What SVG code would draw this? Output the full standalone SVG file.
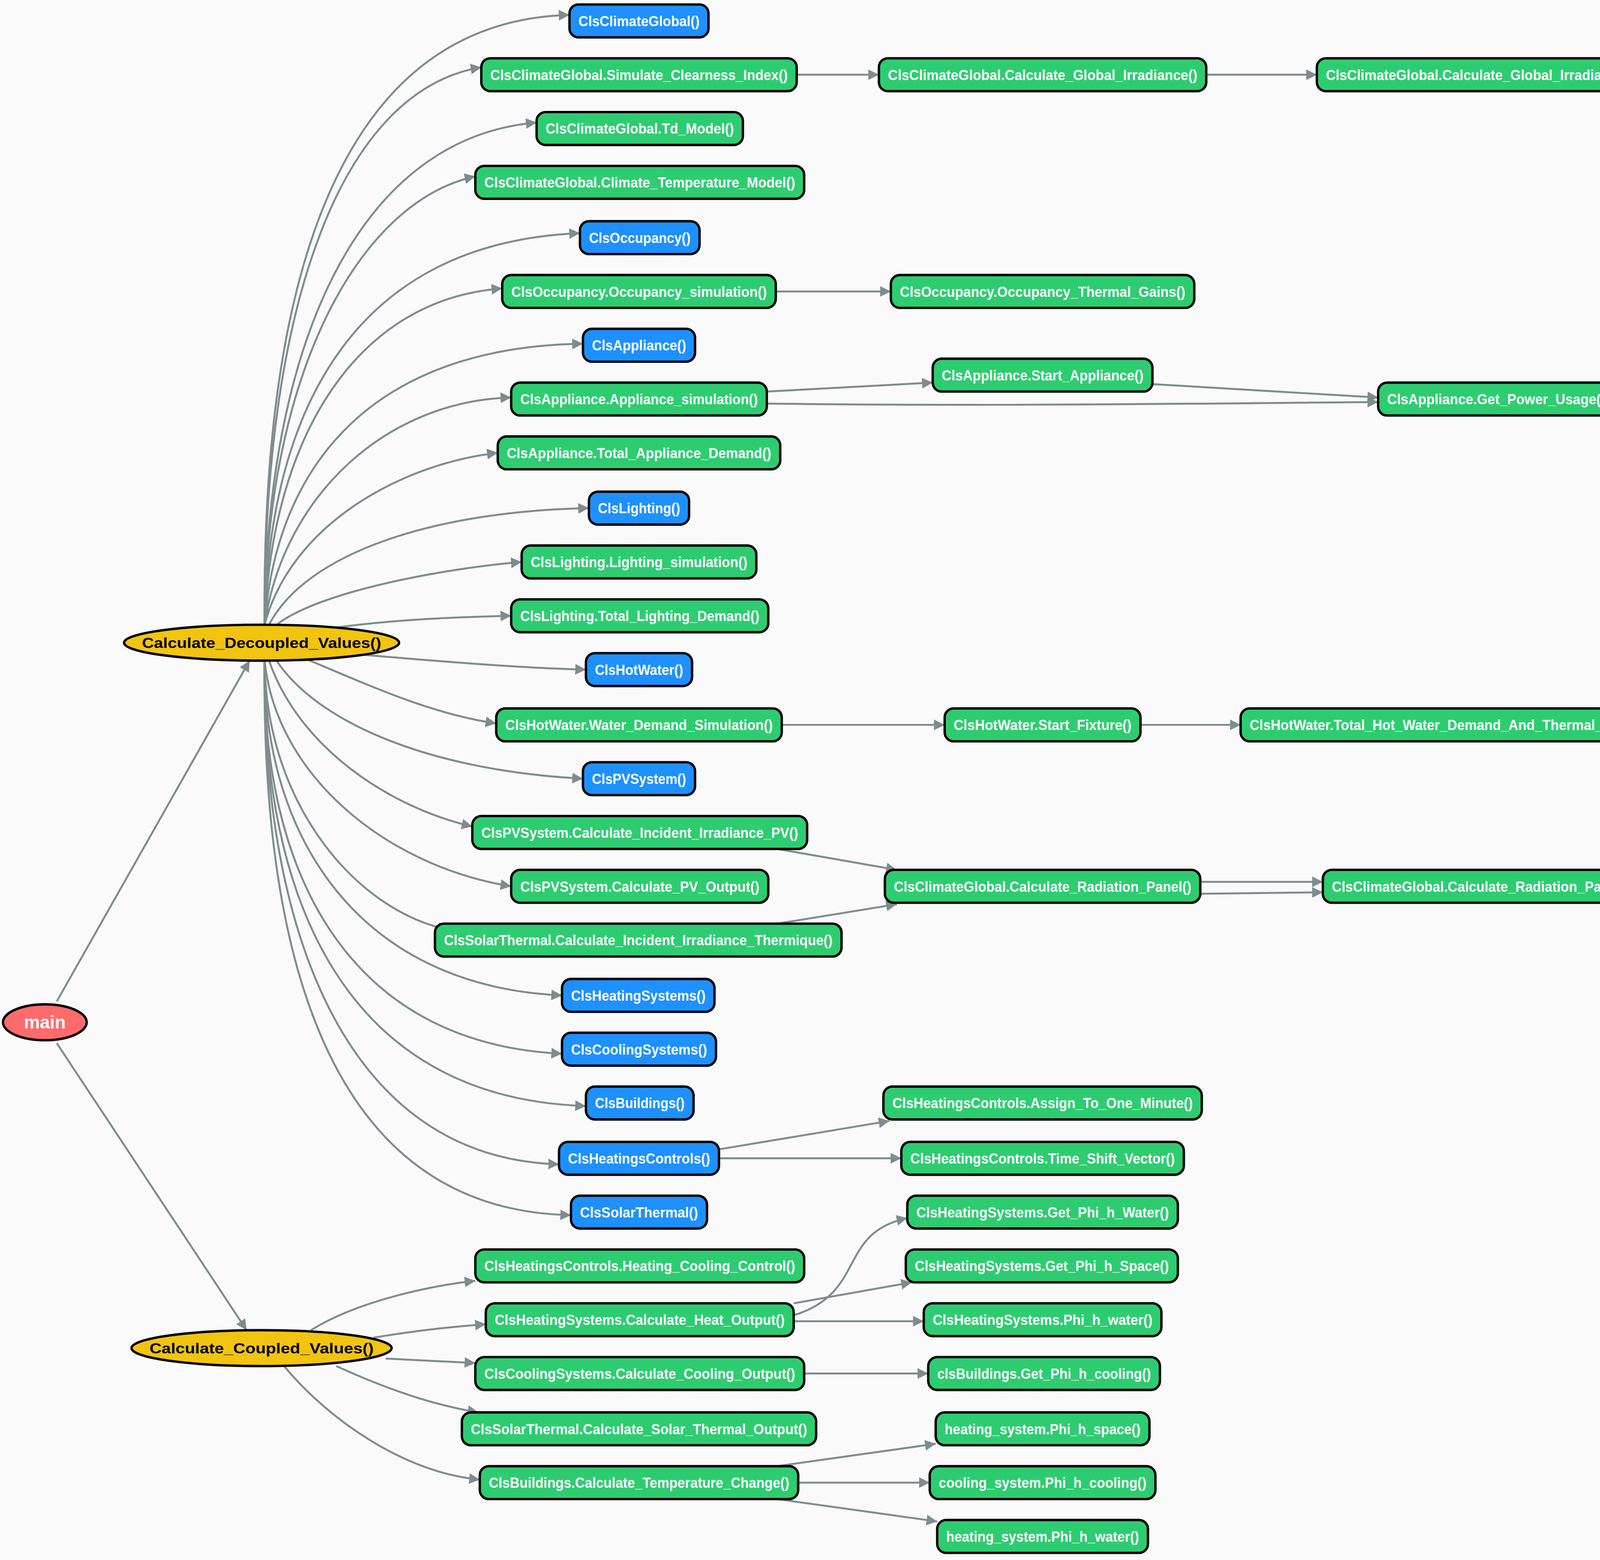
<svg xmlns="http://www.w3.org/2000/svg" width="6000" height="3994" viewBox="0 0 6000 3994">
<style>
.n rect{stroke:#000;stroke-width:1.6}
.g rect{fill:#2ecc71}
.b rect{fill:#1e90ff}
.n text{font-family:"Liberation Sans",Arial,sans-serif;font-weight:bold;font-size:9.5px;fill:#fff;text-anchor:middle}
.e ellipse{stroke:#000;stroke-width:1.6}
.e text{font-family:"Liberation Sans",Arial,sans-serif;font-weight:bold;font-size:9.5px;fill:#000;text-anchor:middle}
#edges path{fill:none;stroke:#7f8c8d;stroke-width:1.3;marker-end:url(#a)}
</style>
<defs><marker id="a" viewBox="0 0 10 10" refX="10" refY="5" markerWidth="5.5" markerHeight="5.5" orient="auto" markerUnits="strokeWidth"><path d="M0,0 L10,5 L0,10 z" fill="#7f8c8d"/></marker></defs>
<rect width="6000" height="3994" fill="#fafafa"/>
<g transform="scale(3.82653)">
<g id="edges">
<path d="M38,670 L167,442"/>
<path d="M38,698 L165,890"/>
<path d="M177,418 C175,180 230,14 381,10"/>
<path d="M177,418 C176,200 230,60 322,45"/>
<path d="M177,418 C178,230 240,92 359,82"/>
<path d="M177,418 C178,250 240,135 318,118"/>
<path d="M177,418 C180,270 240,162 388,156"/>
<path d="M177,418 C182,290 240,200 336,193"/>
<path d="M177,418 C185,310 250,232 390,230"/>
<path d="M177,418 C190,330 260,268 342,266"/>
<path d="M177,418 C195,350 270,310 333,303"/>
<path d="M180,418 C205,370 290,342 394,340"/>
<path d="M185,418 C215,395 300,380 349,376"/>
<path d="M205,423 C250,415 300,413 342,412"/>
<path d="M230,437 C300,443 350,447 392,448"/>
<path d="M205,441 C250,460 290,478 332,484"/>
<path d="M185,442 C210,480 280,515 390,521"/>
<path d="M180,442 C200,500 260,540 316,553"/>
<path d="M177,442 C185,520 260,580 342,593"/>
<path d="M177,442 C178,540 240,610 300,622"/>
<path d="M177,442 C176,560 240,660 376,666"/>
<path d="M177,442 C175,580 230,698 376,705"/>
<path d="M177,442 C175,600 230,735 392,740"/>
<path d="M177,442 C175,620 230,775 374,779"/>
<path d="M177,442 C175,650 225,810 382,813"/>
<path d="M208,890 C240,870 290,860 318,857"/>
<path d="M250,895 C280,890 300,888 325,886"/>
<path d="M258,909 C280,910 300,911 318,912"/>
<path d="M225,914 C260,930 290,940 320,945"/>
<path d="M190,914 C220,950 270,985 321,990"/>
<path d="M533,50 L588,50"/>
<path d="M807,50 L881,50"/>
<path d="M519,195 L596,195"/>
<path d="M513,262 L624,256"/>
<path d="M513,270 C650,272 800,270 922,269"/>
<path d="M771,257 L922,266"/>
<path d="M1080,264 L1196,264"/>
<path d="M1080,271 L1196,271"/>
<path d="M1333,264 L1358,265"/>
<path d="M1333,271 L1362,268"/>
<path d="M523,485 L632,485"/>
<path d="M763,485 L830,485"/>
<path d="M520,568 L600,582"/>
<path d="M520,618 L600,605"/>
<path d="M803,590 L885,590"/>
<path d="M803,598 L885,597"/>
<path d="M481,769 L595,750"/>
<path d="M481,775 L603,775"/>
<path d="M531,880 C580,865 560,825 607,815"/>
<path d="M531,872 L610,858"/>
<path d="M531,884 L618,884"/>
<path d="M538,919 L621,919"/>
<path d="M520,981 L626,966"/>
<path d="M534,992 L622,992"/>
<path d="M520,1003 L627,1018"/>
</g>
<g id="main" class="e"><ellipse cx="30" cy="684" rx="28" ry="12" fill="#ff6b6b" stroke-width="1"/><text x="30" y="688" style="fill:#fff;font-size:12px">main</text></g>
<g id="decoupled" class="e"><ellipse cx="175" cy="430" rx="92" ry="12" fill="#f1c40f"/><text x="175" y="433.5" textLength="160" lengthAdjust="spacingAndGlyphs">Calculate_Decoupled_Values()</text></g>
<g id="coupled" class="e"><ellipse cx="175" cy="902" rx="87" ry="12" fill="#f1c40f"/><text x="175" y="905.5" textLength="150" lengthAdjust="spacingAndGlyphs">Calculate_Coupled_Values()</text></g>
<g id="montecarlo" class="e"><ellipse cx="1447" cy="267" rx="90" ry="11" fill="#f1c40f"/><text x="1447" y="270.5" textLength="150" lengthAdjust="spacingAndGlyphs">GetMonteCarloNormalDistGuess()</text></g>
<g id="n1" class="n b"><rect x="381" y="3" width="93" height="22" rx="6"/><text x="427.5" y="17.5" textLength="81" lengthAdjust="spacingAndGlyphs">ClsClimateGlobal()</text></g>
<g id="n2" class="n g"><rect x="322" y="39" width="211" height="22" rx="6"/><text x="427.5" y="53.5" textLength="199" lengthAdjust="spacingAndGlyphs">ClsClimateGlobal.Simulate_Clearness_Index()</text></g>
<g id="n3" class="n g"><rect x="359" y="75" width="138" height="22" rx="6"/><text x="428" y="89.5" textLength="126" lengthAdjust="spacingAndGlyphs">ClsClimateGlobal.Td_Model()</text></g>
<g id="n4" class="n g"><rect x="318" y="111" width="220" height="22" rx="6"/><text x="428" y="125.5" textLength="208" lengthAdjust="spacingAndGlyphs">ClsClimateGlobal.Climate_Temperature_Model()</text></g>
<g id="n5" class="n b"><rect x="388" y="148" width="80" height="22" rx="6"/><text x="428" y="162.5" textLength="68" lengthAdjust="spacingAndGlyphs">ClsOccupancy()</text></g>
<g id="n6" class="n g"><rect x="336" y="184" width="183" height="22" rx="6"/><text x="427.5" y="198.5" textLength="171" lengthAdjust="spacingAndGlyphs">ClsOccupancy.Occupancy_simulation()</text></g>
<g id="n7" class="n b"><rect x="390" y="220" width="75" height="22" rx="6"/><text x="427.5" y="234.5" textLength="63" lengthAdjust="spacingAndGlyphs">ClsAppliance()</text></g>
<g id="n8" class="n g"><rect x="342" y="256" width="171" height="22" rx="6"/><text x="427.5" y="270.5" textLength="159" lengthAdjust="spacingAndGlyphs">ClsAppliance.Appliance_simulation()</text></g>
<g id="n9" class="n g"><rect x="333" y="292" width="189" height="22" rx="6"/><text x="427.5" y="306.5" textLength="177" lengthAdjust="spacingAndGlyphs">ClsAppliance.Total_Appliance_Demand()</text></g>
<g id="n10" class="n b"><rect x="394" y="329" width="67" height="22" rx="6"/><text x="427.5" y="343.5" textLength="55" lengthAdjust="spacingAndGlyphs">ClsLighting()</text></g>
<g id="n11" class="n g"><rect x="349" y="365" width="157" height="22" rx="6"/><text x="427.5" y="379.5" textLength="145" lengthAdjust="spacingAndGlyphs">ClsLighting.Lighting_simulation()</text></g>
<g id="n12" class="n g"><rect x="342" y="401" width="172" height="22" rx="6"/><text x="428" y="415.5" textLength="160" lengthAdjust="spacingAndGlyphs">ClsLighting.Total_Lighting_Demand()</text></g>
<g id="n13" class="n b"><rect x="392" y="437" width="71" height="22" rx="6"/><text x="427.5" y="451.5" textLength="59" lengthAdjust="spacingAndGlyphs">ClsHotWater()</text></g>
<g id="n14" class="n g"><rect x="332" y="474" width="191" height="22" rx="6"/><text x="427.5" y="488.5" textLength="179" lengthAdjust="spacingAndGlyphs">ClsHotWater.Water_Demand_Simulation()</text></g>
<g id="n15" class="n b"><rect x="390" y="510" width="75" height="22" rx="6"/><text x="427.5" y="524.5" textLength="63" lengthAdjust="spacingAndGlyphs">ClsPVSystem()</text></g>
<g id="n16" class="n g"><rect x="316" y="546" width="224" height="22" rx="6"/><text x="428" y="560.5" textLength="212" lengthAdjust="spacingAndGlyphs">ClsPVSystem.Calculate_Incident_Irradiance_PV()</text></g>
<g id="n17" class="n g"><rect x="342" y="582" width="172" height="22" rx="6"/><text x="428" y="596.5" textLength="160" lengthAdjust="spacingAndGlyphs">ClsPVSystem.Calculate_PV_Output()</text></g>
<g id="n18" class="n g"><rect x="291" y="618" width="272" height="22" rx="6"/><text x="427" y="632.5" textLength="260" lengthAdjust="spacingAndGlyphs">ClsSolarThermal.Calculate_Incident_Irradiance_Thermique()</text></g>
<g id="n19" class="n b"><rect x="376" y="655" width="102" height="22" rx="6"/><text x="427" y="669.5" textLength="90" lengthAdjust="spacingAndGlyphs">ClsHeatingSystems()</text></g>
<g id="n20" class="n b"><rect x="376" y="691" width="103" height="22" rx="6"/><text x="427.5" y="705.5" textLength="91" lengthAdjust="spacingAndGlyphs">ClsCoolingSystems()</text></g>
<g id="n21" class="n b"><rect x="392" y="727" width="72" height="22" rx="6"/><text x="428" y="741.5" textLength="60" lengthAdjust="spacingAndGlyphs">ClsBuildings()</text></g>
<g id="n22" class="n b"><rect x="374" y="764" width="107" height="22" rx="6"/><text x="427.5" y="778.5" textLength="95" lengthAdjust="spacingAndGlyphs">ClsHeatingsControls()</text></g>
<g id="n23" class="n b"><rect x="382" y="800" width="91" height="22" rx="6"/><text x="427.5" y="814.5" textLength="79" lengthAdjust="spacingAndGlyphs">ClsSolarThermal()</text></g>
<g id="n24" class="n g"><rect x="318" y="836" width="220" height="22" rx="6"/><text x="428" y="850.5" textLength="208" lengthAdjust="spacingAndGlyphs">ClsHeatingsControls.Heating_Cooling_Control()</text></g>
<g id="n25" class="n g"><rect x="325" y="872" width="206" height="22" rx="6"/><text x="428" y="886.5" textLength="194" lengthAdjust="spacingAndGlyphs">ClsHeatingSystems.Calculate_Heat_Output()</text></g>
<g id="n26" class="n g"><rect x="318" y="908" width="220" height="22" rx="6"/><text x="428" y="922.5" textLength="208" lengthAdjust="spacingAndGlyphs">ClsCoolingSystems.Calculate_Cooling_Output()</text></g>
<g id="n27" class="n g"><rect x="309" y="945" width="237" height="22" rx="6"/><text x="427.5" y="959.5" textLength="225" lengthAdjust="spacingAndGlyphs">ClsSolarThermal.Calculate_Solar_Thermal_Output()</text></g>
<g id="n28" class="n g"><rect x="321" y="981" width="213" height="22" rx="6"/><text x="427.5" y="995.5" textLength="201" lengthAdjust="spacingAndGlyphs">ClsBuildings.Calculate_Temperature_Change()</text></g>
<g id="m1" class="n g"><rect x="588" y="39" width="219" height="22" rx="6"/><text x="697.5" y="53.5" textLength="207" lengthAdjust="spacingAndGlyphs">ClsClimateGlobal.Calculate_Global_Irradiance()</text></g>
<g id="m2" class="n g"><rect x="596" y="184" width="203" height="22" rx="6"/><text x="697.5" y="198.5" textLength="191" lengthAdjust="spacingAndGlyphs">ClsOccupancy.Occupancy_Thermal_Gains()</text></g>
<g id="m3" class="n g"><rect x="624" y="240" width="147" height="22" rx="6"/><text x="697.5" y="254.5" textLength="135" lengthAdjust="spacingAndGlyphs">ClsAppliance.Start_Appliance()</text></g>
<g id="m4" class="n g"><rect x="632" y="474" width="131" height="22" rx="6"/><text x="697.5" y="488.5" textLength="119" lengthAdjust="spacingAndGlyphs">ClsHotWater.Start_Fixture()</text></g>
<g id="m5" class="n g"><rect x="592" y="582" width="211" height="22" rx="6"/><text x="697.5" y="596.5" textLength="199" lengthAdjust="spacingAndGlyphs">ClsClimateGlobal.Calculate_Radiation_Panel()</text></g>
<g id="m6" class="n g"><rect x="591" y="727" width="213" height="22" rx="6"/><text x="697.5" y="741.5" textLength="201" lengthAdjust="spacingAndGlyphs">ClsHeatingsControls.Assign_To_One_Minute()</text></g>
<g id="m7" class="n g"><rect x="603" y="764" width="189" height="22" rx="6"/><text x="697.5" y="778.5" textLength="177" lengthAdjust="spacingAndGlyphs">ClsHeatingsControls.Time_Shift_Vector()</text></g>
<g id="m8" class="n g"><rect x="607" y="800" width="181" height="22" rx="6"/><text x="697.5" y="814.5" textLength="169" lengthAdjust="spacingAndGlyphs">ClsHeatingSystems.Get_Phi_h_Water()</text></g>
<g id="m9" class="n g"><rect x="606" y="836" width="182" height="22" rx="6"/><text x="697" y="850.5" textLength="170" lengthAdjust="spacingAndGlyphs">ClsHeatingSystems.Get_Phi_h_Space()</text></g>
<g id="m10" class="n g"><rect x="618" y="872" width="159" height="22" rx="6"/><text x="697.5" y="886.5" textLength="147" lengthAdjust="spacingAndGlyphs">ClsHeatingSystems.Phi_h_water()</text></g>
<g id="m11" class="n g"><rect x="621" y="908" width="155" height="22" rx="6"/><text x="698.5" y="922.5" textLength="143" lengthAdjust="spacingAndGlyphs">clsBuildings.Get_Phi_h_cooling()</text></g>
<g id="m12" class="n g"><rect x="626" y="945" width="143" height="22" rx="6"/><text x="697.5" y="959.5" textLength="131" lengthAdjust="spacingAndGlyphs">heating_system.Phi_h_space()</text></g>
<g id="m13" class="n g"><rect x="622" y="981" width="151" height="22" rx="6"/><text x="697.5" y="995.5" textLength="139" lengthAdjust="spacingAndGlyphs">cooling_system.Phi_h_cooling()</text></g>
<g id="m14" class="n g"><rect x="627" y="1017" width="141" height="22" rx="6"/><text x="697.5" y="1031.5" textLength="129" lengthAdjust="spacingAndGlyphs">heating_system.Phi_h_water()</text></g>
<g id="k1" class="n g"><rect x="881" y="39" width="240" height="22" rx="6"/><text x="1001" y="53.5" textLength="228" lengthAdjust="spacingAndGlyphs">ClsClimateGlobal.Calculate_Global_Irradiance_Day()</text></g>
<g id="k2" class="n g"><rect x="922" y="256" width="158" height="22" rx="6"/><text x="1001" y="270.5" textLength="146" lengthAdjust="spacingAndGlyphs">ClsAppliance.Get_Power_Usage()</text></g>
<g id="k3" class="n g"><rect x="830" y="474" width="342" height="22" rx="6"/><text x="1001" y="488.5" textLength="330" lengthAdjust="spacingAndGlyphs">ClsHotWater.Total_Hot_Water_Demand_And_Thermal_Transfer_Coefficient()</text></g>
<g id="k4" class="n g"><rect x="885" y="582" width="232" height="22" rx="6"/><text x="1001" y="596.5" textLength="220" lengthAdjust="spacingAndGlyphs">ClsClimateGlobal.Calculate_Radiation_Panel_day()</text></g>
<g id="c1" class="n g"><rect x="1196" y="256" width="137" height="22" rx="6"/><text x="1264.5" y="270.5" textLength="125" lengthAdjust="spacingAndGlyphs">ClsAppliance.Cycle_Length()</text></g>
</g>
</svg>
